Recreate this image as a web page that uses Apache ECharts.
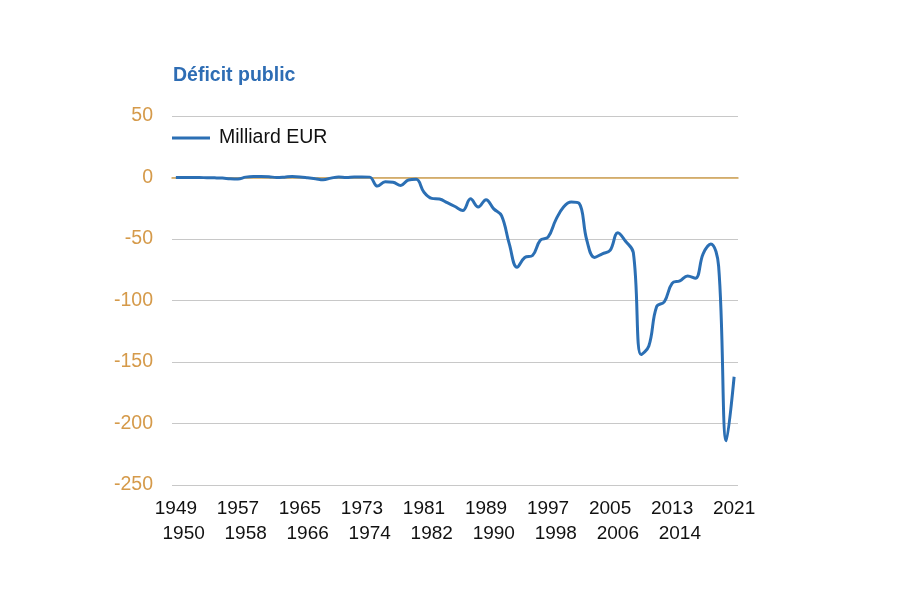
<!DOCTYPE html>
<html>
<head>
<meta charset="utf-8">
<script src="https://cdn.jsdelivr.net/npm/echarts@6/dist/echarts.min.js"></script>
<style>
html, body { margin: 0; padding: 0; background: #fff; }
#main { width: 903px; height: 595px; }
</style>
</head>
<body>
<div id="main"></div>
<script>
// années 1949 - 2021
var years = [];
for (var y = 1949; y <= 2021; y++) { years.push(String(y)); }

// déficit public, milliards d'euros
var deficit = [
	0, 0, 0, 0, -0.2, -0.3, -0.5, -1, -1.2, 0.3,          // 1949-1958
	0.8, 0.8, 0.6, 0, 0.3, 0.8, 0.5, -0.2, -1, -1.8,      // 1959-1968
	-0.5, 0.5, 0, 0.5, 0.5, 0.3, -7, -3.5, -3.8, -6.5,    // 1969-1978
	-2, -1.5, -12, -17, -17.5, -20.5, -23.6, -26.8, -17.3, -24, // 1979-1988
	-18, -25.5, -31, -54, -73, -65, -63.4, -51, -48.5, -34.4,   // 1989-1998
	-24, -20, -21, -51, -65, -62, -59.3, -45, -51.8, -61,       // 1999-2008
	-144, -137, -105, -101, -86, -84, -80, -82, -62, -54,       // 2009-2018
	-72, -214, -162                                             // 2019-2021
];

var yTicks = { min: -250, max: 50, interval: 50 };

var chart = echarts.init(document.getElementById('main'));

var option = {
	backgroundColor: '#fff',
	animation: false,
	title: {
		text: 'Déficit public',
		left: 168,
		top: 61,
		textStyle: {
			color: '#2e6db4',
			fontSize: 19.5,
			fontWeight: 'bold',
			fontFamily: 'Liberation Sans'
		}
	},
	legend: {
		left: 167,
		top: 123,
		icon: 'rect',
		itemWidth: 38,
		itemHeight: 3,
		itemGap: 8,
		textStyle: {
			color: '#111',
			fontSize: 19.5,
			fontFamily: 'Liberation Sans',
			padding: [0, 0, 0, 4]
		},
		data: ['Milliard EUR']
	},
	grid: {
		left: 172,
		right: 165,
		top: 116,
		bottom: 110,
		containLabel: false
	},
	xAxis: {
		type: 'category',
		data: years,
		boundaryGap: true,
		axisLine: {
			show: true,
			onZero: true,
			lineStyle: { color: '#d2a352', width: 1.5 }
		},
		axisTick: { show: false },
		axisLabel: {
			interval: 0,
			margin: 11,
			color: '#111',
			fontSize: 19,
			lineHeight: 25,
			fontFamily: 'Liberation Sans',
			formatter: function (value) {
				var yr = parseInt(value, 10);
				if ((yr - 1949) % 8 === 0) return value;
				if ((yr - 1950) % 8 === 0) return '\n' + value;
				return '';
			}
		},
		splitLine: { show: false }
	},
	yAxis: {
		type: 'value',
		min: yTicks.min,
		max: yTicks.max,
		interval: yTicks.interval,
		axisLine: { show: false },
		axisTick: { show: false },
		axisLabel: {
			margin: 19,
			color: '#d59a4a',
			fontSize: 19.5,
			fontFamily: 'Liberation Sans'
		},
		splitLine: {
			lineStyle: { color: '#c8c8c8', width: 1 }
		}
	},
	series: [{
		name: 'Milliard EUR',
		type: 'line',
		data: deficit,
		smooth: 0.4,
		symbol: 'none',
		lineStyle: { color: '#2b6fb4', width: 3 },
		itemStyle: { color: '#2b6fb4' }
	}]
};

chart.setOption(option);
</script>
</body>
</html>
